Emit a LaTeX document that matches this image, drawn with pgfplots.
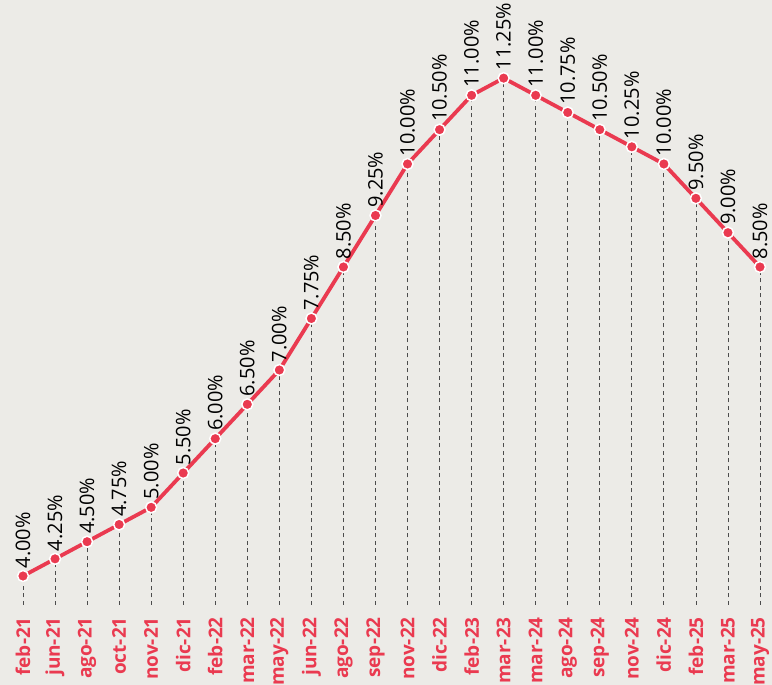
\documentclass[border=0pt]{standalone}
\usepackage{fontspec}
\setmainfont{Open Sans}
\usepackage{pgfplots}
\pgfplotsset{compat=1.18}
\definecolor{bg}{RGB}{236,235,231}
\definecolor{myred}{RGB}{234,58,80}
\pgfplotstableread{
x y
0 4.00
1 4.25
2 4.50
3 4.75
4 5.00
5 5.50
6 6.00
7 6.50
8 7.00
9 7.75
10 8.50
11 9.25
12 10.00
13 10.50
14 11.00
15 11.25
16 11.00
17 10.75
18 10.50
19 10.25
20 10.00
21 9.50
22 9.00
23 8.50
}\ratedata
\begin{document}
\begin{tikzpicture}
\useasboundingbox (0,0) rectangle (772pt,685pt);
\clip (0,0) rectangle (772pt,685pt);
\fill[bg] (0,0) rectangle (772pt,685pt);
\begin{axis}[
  at={(0pt,80pt)}, anchor=south west,
  scale only axis, width=772pt, height=605pt,
  xmin=-0.718, xmax=23.375, ymin=3.578, ymax=12.388,
  axis line style={draw=none}, tick style={draw=none},
  xtick={0,...,23},
  xticklabels={feb-21,jun-21,ago-21,oct-21,nov-21,dic-21,feb-22,mar-22,may-22,jun-22,ago-22,sep-22,nov-22,dic-22,feb-23,mar-23,mar-24,ago-24,sep-24,nov-24,dic-24,feb-25,mar-25,may-25},
  xticklabel style={rotate=90, anchor=east, font=\bfseries\fontsize{19}{19}\selectfont, text=myred, inner sep=0pt},
  xticklabel shift=12pt,
  ytick=\empty,
  /pgf/number format/assume math mode=true,
]
\addplot[ycomb, draw=black!70, line width=0.8pt, dash pattern=on 4pt off 3.5pt, no marks] table[x=x,y=y] {\ratedata};
\addplot[myred, line width=3.8pt, mark=*, mark size=5.5pt,
  mark options={fill=myred, draw=white, line width=1.5pt, solid},
  nodes near coords={\pgfmathprintnumber[fixed,fixed zerofill,precision=2]{\pgfplotspointmeta}\%},
  nodes near coords style={rotate=90, anchor=west, font=\fontsize{20}{20}\selectfont, text=black, inner xsep=7pt, inner ysep=0pt}
] table[x=x,y=y] {\ratedata};
\end{axis}
\end{tikzpicture}
\end{document}
